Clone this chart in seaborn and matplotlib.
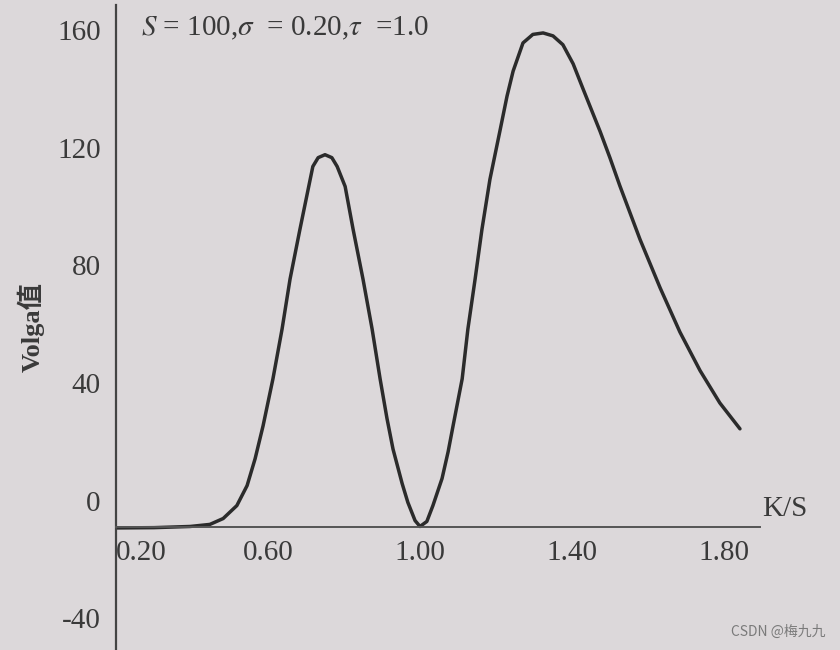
import numpy as np
import seaborn as sns
import matplotlib
matplotlib.use("Agg")
import matplotlib.pyplot as plt

# values (K/S, Volga)
k_over_s = [0.20, 0.30, 0.395, 0.447, 0.482, 0.518, 0.545, 0.566, 0.587, 0.613,
            0.637, 0.658, 0.684, 0.711, 0.718, 0.732, 0.750, 0.768, 0.782, 0.803,
            0.824, 0.850, 0.874, 0.895, 0.913, 0.929, 0.953, 0.968, 0.987, 1.000,
            1.018, 1.034, 1.058, 1.074, 1.087, 1.111, 1.126, 1.145, 1.163, 1.184,
            1.211, 1.229, 1.245, 1.271, 1.297, 1.324, 1.350, 1.376, 1.403, 1.429,
            1.474, 1.500, 1.526, 1.579, 1.632, 1.684, 1.737, 1.789, 1.842]
volga = [-9.3, -9.2, -8.8, -8.1, -6.1, -1.7, 5.1, 14.2, 25.4, 41.4,
         58.3, 75.3, 92.2, 109.2, 113.6, 116.6, 117.6, 116.6, 113.6, 106.8,
         92.2, 75.3, 58.3, 41.4, 28.0, 17.5, 5.8, -0.6, -6.8, -8.8,
         -7.1, -1.7, 7.5, 16.6, 25.4, 41.4, 58.3, 75.3, 92.2, 109.2,
         126.1, 137.5, 146.0, 155.6, 158.5, 159.0, 158.0, 155.0, 148.5, 140.0,
         125.5, 116.5, 107.0, 88.8, 72.3, 57.3, 44.2, 33.2, 24.4]

x_ticks = [0.20, 0.60, 1.00, 1.40, 1.80]
x_tick_labels = ["0.20", "0.60", "1.00", "1.40", "1.80"]
y_ticks = [-40, 0, 40, 80, 120, 160]

sns.set_theme(style="white")
plt.rcParams["font.family"] = ["Liberation Serif", "Noto Sans CJK SC"]
plt.rcParams["mathtext.fontset"] = "stix"
plt.rcParams["axes.unicode_minus"] = False

bg = "#dcd8da"
ink = "#2b2b2b"
txt = "#3a3a3a"

fig = plt.figure(figsize=(8.4, 6.5), dpi=100, facecolor=bg)
ax = fig.add_axes([116 / 840, 0, 644 / 840, 645 / 650])
ax.set_facecolor(bg)

sns.lineplot(x=k_over_s, y=volga, ax=ax, color=ink, linewidth=2.5, estimator=None, sort=False)
ax.lines[0].set_solid_joinstyle("round")

ax.set_xlim(0.2, 0.2 + 644 / 380)
ax.set_ylim(-50.8, 168.5)

for s in ["top", "right"]:
    ax.spines[s].set_visible(False)
ax.spines["left"].set_color("#444444")
ax.spines["left"].set_linewidth(1.6)
ax.spines["bottom"].set_color("#555555")
ax.spines["bottom"].set_linewidth(1.4)
ax.spines["bottom"].set_position(("data", -9))

ax.set_xticks(x_ticks)
ax.set_xticklabels(x_tick_labels)
ax.get_xticklabels()[0].set_horizontalalignment("left")
ax.tick_params(axis="x", direction="in", length=6, width=1.2, color="#555555",
               labelsize=21, labelcolor=txt, pad=9)
ax.set_yticks(y_ticks)
ax.tick_params(axis="y", length=0, labelsize=21, labelcolor=txt, pad=11)

ax.set_ylabel("Volga值", fontsize=19, fontweight="bold", color=txt, labelpad=9)
ax.set_xlabel("")

ax.text(0.265, 160.5, r"$S$ = 100,$\sigma$  = 0.20,$\tau$  =1.0", fontsize=21,
        color=txt, va="center", ha="left")
ax.text(1.90, -3, "K/S", fontsize=21, color=txt, va="center", ha="left", clip_on=False)

fig.text(0.983, 0.028, "CSDN @梅九九", fontsize=10, color="#7a7a7a", ha="right",
         va="center", family=["Noto Sans CJK SC", "DejaVu Sans"])

fig.savefig("out.png", dpi=100, facecolor=bg)
